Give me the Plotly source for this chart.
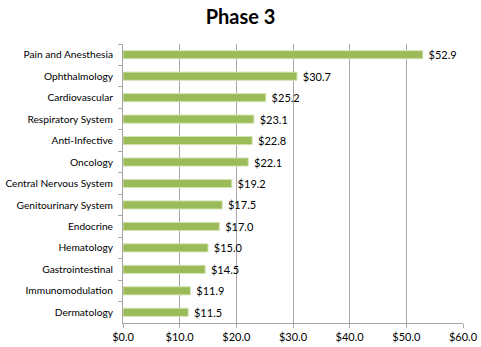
import plotly.graph_objects as go

categories = ["Pain and Anesthesia", "Ophthalmology", "Cardiovascular", "Respiratory System",
              "Anti-Infective", "Oncology", "Central Nervous System", "Genitourinary System",
              "Endocrine", "Hematology", "Gastrointestinal", "Immunomodulation", "Dermatology"]
values = [52.9, 30.7, 25.2, 23.1, 22.8, 22.1, 19.2, 17.5, 17.0, 15.0, 14.5, 11.9, 11.5]
x_ticks = [0, 10, 20, 30, 40, 50, 60]
x_tick_labels = ["$%.1f" % v for v in x_ticks]

font_family = "Lato, 'Open Sans', sans-serif"

fig = go.Figure(go.Bar(
    x=values, y=categories, orientation="h",
    marker=dict(color="#9BBB59", line=dict(color="#D4E3B5", width=1)),
    text=[" $%.1f" % v for v in values], textposition="outside", constraintext="none",
    textfont=dict(size=11, color="#000000", family=font_family),
    cliponaxis=False, width=0.38,
))

fig.update_layout(
    width=481, height=347,
    margin=dict(l=123, r=18, t=44, b=24, autoexpand=False),
    paper_bgcolor="white", plot_bgcolor="white",
    title=dict(text="<b>Phase 3</b>", x=0.5, xanchor="center", y=0.95, yanchor="middle",
               font=dict(size=20, color="#000000", family=font_family)),
    font=dict(family=font_family, size=11, color="#000000"),
    showlegend=False,
    bargap=0.6,
)
fig.update_xaxes(range=[0, 60], tickvals=x_ticks, ticktext=x_tick_labels,
                 showgrid=True, gridcolor="#A6A6A6", gridwidth=1,
                 showline=True, linecolor="#A6A6A6", linewidth=1,
                 ticks="outside", ticklen=4, tickcolor="#A6A6A6", automargin=False,
                 tickfont=dict(size=11, family=font_family), zeroline=False, fixedrange=True)
fig.update_yaxes(autorange="reversed", showline=True, linecolor="#A6A6A6", linewidth=1,
                 ticks="outside", ticklen=4, tickcolor="#A6A6A6", tickson="boundaries",
                 showgrid=False, tickfont=dict(size=10.2, family=font_family),
                 ticklabelstandoff=7, automargin=False)

fig.write_html("out.html")
